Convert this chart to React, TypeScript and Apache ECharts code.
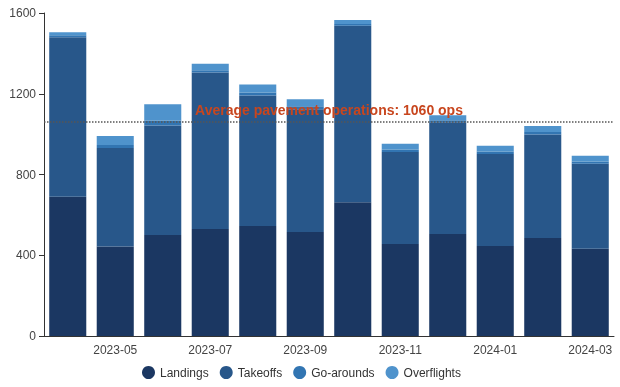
import React, { useEffect, useRef } from "react";
import * as echarts from "echarts";

const months = ["2023-04","2023-05","2023-06","2023-07","2023-08","2023-09","2023-10","2023-11","2023-12","2024-01","2024-02","2024-03"];
const landings = [690, 443, 500, 530, 545, 515, 662, 456, 505, 446, 486, 432];
const takeoffs = [790, 488, 543, 775, 646, 608, 875, 456, 554, 456, 512, 421];
const goArounds = [10, 15, 25, 12, 15, 15, 8, 12, 10, 12, 12, 12];
const overflights = [15, 45, 80, 32, 40, 35, 20, 28, 25, 28, 30, 28];
const avgPavementOps = 1060;
const yTicks = { min: 0, max: 1600, interval: 400 };

export default function App() {
  const ref = useRef<HTMLDivElement>(null);
  useEffect(() => {
    if (!ref.current) return;
    const chart = echarts.init(ref.current, null, { renderer: "svg" });
    const colors = ["#1b3762", "#28578a", "#3275b2", "#4f93cc"];
    const mk = (name: string, data: number[], i: number, extra: any = {}) => ({
      name,
      type: "bar",
      stack: "ops",
      data,
      barCategoryGap: "22%",
      itemStyle: { color: colors[i] },
      ...extra,
    });
    chart.setOption({
      animation: false,
      color: colors,
      textStyle: { fontFamily: "Liberation Sans, Arial, sans-serif" },
      grid: { left: 44, right: 6, top: 13, bottom: 51 },
      legend: {
        bottom: 3,
        left: 137,
        icon: "circle",
        itemWidth: 13,
        itemHeight: 13,
        itemGap: 11,
        textStyle: { color: "#333", fontSize: 12 },
      },
      xAxis: {
        type: "category",
        data: months,
        axisLine: { lineStyle: { color: "#333" } },
        axisTick: { alignWithLabel: true, interval: (i: number) => i % 2 === 1 },
        axisLabel: { interval: (i: number) => i % 2 === 1, color: "#444", fontSize: 12 },
      },
      yAxis: {
        type: "value",
        min: yTicks.min,
        max: yTicks.max,
        interval: yTicks.interval,
        axisLine: { show: true, lineStyle: { color: "#333" } },
        axisTick: { show: true },
        axisLabel: { color: "#444", fontSize: 12, formatter: (v: number) => String(v) },
        splitLine: { show: false },
      },
      series: [
        mk("Landings", landings, 0),
        mk("Takeoffs", takeoffs, 1),
        mk("Go-arounds", goArounds, 2),
        mk("Overflights", overflights, 3, {
          markLine: {
            silent: true,
            symbol: "none",
            lineStyle: { color: "#555", type: "dotted", width: 1.5 },
            label: {
              position: "insideMiddleTop",
              formatter: `Average pavement operations: ${avgPavementOps} ops`,
              color: "#c8461e",
              fontWeight: "bold",
              fontSize: 14,
            },
            data: [{ yAxis: avgPavementOps }],
          },
        }),
      ],
    });
    return () => chart.dispose();
  }, []);
  return (
    <div
      ref={ref}
      style={{ position: "fixed", left: 0, top: 0, width: 620, height: 387 }}
    />
  );
}
